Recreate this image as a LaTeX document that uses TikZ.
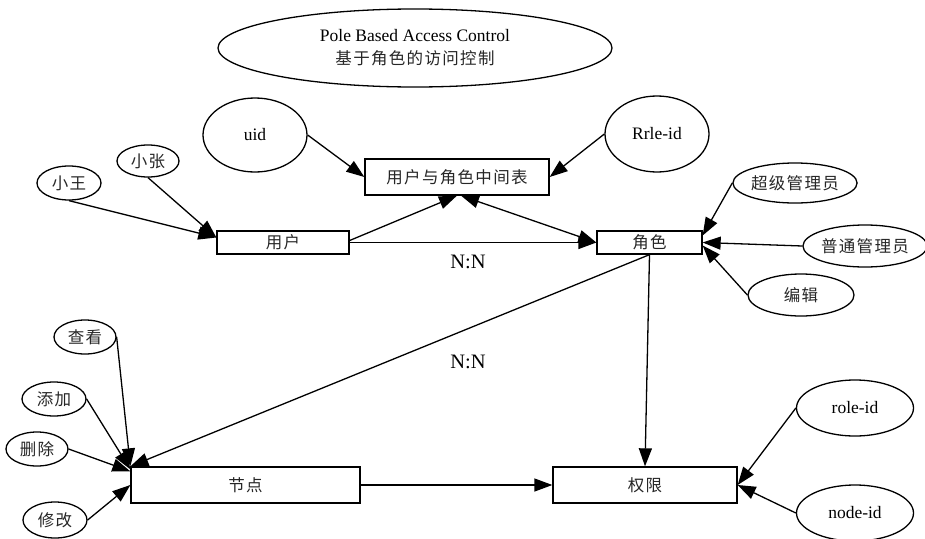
\documentclass[tikz,border=0pt]{standalone}
\usepackage{fontspec}
\setmainfont{Liberation Serif}
\newfontfamily\cjk[LetterSpace=8]{Noto Sans CJK SC}
\usetikzlibrary{shapes.geometric,arrows.meta}
\tikzset{
  ell/.style={ellipse, draw, line width=1.3pt, inner sep=0pt, font=\fontsize{17.5}{20}\selectfont},
  cj/.style={font=\cjk\fontsize{16.5}{20}\selectfont, text=black!85},
  box/.style={rectangle, draw, line width=1.3pt, inner sep=0pt, font=\cjk\fontsize{16.5}{20}\selectfont, text=black!85},
  arr/.style={-{Triangle[length=18pt,width=13pt]}, line width=1.3pt},
  darr/.style={{Triangle[length=18pt,width=13pt]}-{Triangle[length=18pt,width=13pt]}, line width=1.3pt},
  nn/.style={font=\fontsize{20.5}{22}\selectfont, inner sep=0pt}
}
\begin{document}
\begin{tikzpicture}[x=1pt,y=-1pt]
\useasboundingbox (0,0) rectangle (925,538);
% title
\node[ell, minimum width=394pt, minimum height=78pt, align=center] (title) at (415,48)
  {\fontsize{17.5}{23}\selectfont Pole Based Access Control\\[3pt]{\cjk\fontsize{16.5}{22}\selectfont\color{black!85}基于角色的访问控制}};
% attribute ellipses
\node[ell, minimum width=104pt, minimum height=74pt] (uid) at (255,135) {uid};
\node[ell, minimum width=104pt, minimum height=76pt] (rr) at (657,134) {Rrle-id};
\node[ell, cj, minimum width=62pt, minimum height=32pt] (xz) at (148,161) {小张};
\node[ell, cj, minimum width=64pt, minimum height=34pt] (xw) at (69,183) {小王};
\node[ell, cj, minimum width=124pt, minimum height=40pt] (sup) at (795,183) {超级管理员};
\node[ell, cj, minimum width=114pt, minimum height=42pt] (nor) at (865,246) {普通管理员};
\node[ell, cj, minimum width=106pt, minimum height=42pt] (edit) at (801,295) {编辑};
\node[ell, cj, minimum width=62pt, minimum height=34pt] (ck) at (85,337) {查看};
\node[ell, cj, minimum width=64pt, minimum height=34pt] (tj) at (54,399) {添加};
\node[ell, cj, minimum width=62pt, minimum height=34pt] (sc) at (37,449) {删除};
\node[ell, cj, minimum width=64pt, minimum height=36pt] (xg) at (55,520) {修改};
\node[ell, minimum width=117pt, minimum height=56pt] (rid) at (855,408) {role-id};
\node[ell, minimum width=117pt, minimum height=56pt] (nid) at (855,513) {node-id};
% boxes
\node[box, minimum width=132pt, minimum height=23pt] (user) at (283,242.5) {用户};
\node[box, minimum width=184pt, minimum height=36pt] (mid) at (457,177) {用户与角色中间表};
\node[box, minimum width=105pt, minimum height=23pt] (role) at (649.5,242.5) {角色};
\node[box, minimum width=229pt, minimum height=36pt] (node) at (245.5,485) {节点};
\node[box, minimum width=184pt, minimum height=36pt] (perm) at (645,485) {权限};
% labels
\node[nn] (nn1) at (468,261.5) {N:N};
\node[nn] (nn2) at (468,361.5) {N:N};
% connectors
\draw[arr] (xw.south) -- ([yshift=5pt]user.west);
\draw[arr] (xz.south) -- ([yshift=5pt]user.west);
\draw[arr] (uid.east) -- (mid.west);
\draw[arr] (rr.west) -- (mid.east);
\draw[arr] ([yshift=2pt]user.east) -- (mid.south);
\draw[arr] (user.east) -- (role.west);
\draw[darr] ([xshift=4pt]mid.south) -- (role.west);
\draw[arr] (sup.west) -- ([yshift=7pt]role.east);
\draw[arr] (nor.west) -- (role.east);
\draw[arr] (edit.west) -- ([yshift=-3pt]role.east);
\draw[arr] (role.south) -- (node.north west);
\draw[arr] (role.south) -- (perm.north);
\draw[arr] (node.east) -- (perm.west);
\draw[arr] (ck.east) -- (node.north west);
\draw[arr] (tj.east) -- ([yshift=-3pt]node.north west);
\draw[arr] (sc.east) -- ([yshift=-5pt]node.north west);
\draw[arr] (xg.east) -- (node.west);
\draw[arr] (rid.west) -- (perm.east);
\draw[arr] (nid.west) -- (perm.east);
\end{tikzpicture}
\end{document}
